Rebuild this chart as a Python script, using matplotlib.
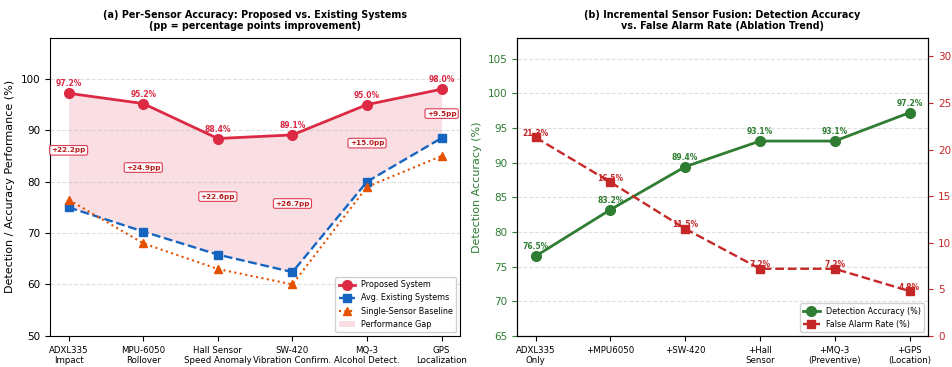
import matplotlib
matplotlib.use("Agg")
import matplotlib.pyplot as plt
import numpy as np

# panel (a) data
sensors = ["ADXL335\nImpact", "MPU-6050\nRollover", "Hall Sensor\nSpeed Anomaly",
           "SW-420\nVibration Confirm.", "MQ-3\nAlcohol Detect.", "GPS\nLocalization"]
proposed = [97.2, 95.2, 88.4, 89.1, 95.0, 98.0]
existing = [75.0, 70.3, 65.8, 62.4, 80.0, 88.5]
baseline = [76.5, 68.0, 63.0, 60.0, 79.0, 85.0]

# panel (b) data
stages = ["ADXL335\nOnly", "+MPU6050", "+SW-420", "+Hall\nSensor",
          "+MQ-3\n(Preventive)", "+GPS\n(Location)"]
accuracy = [76.5, 83.2, 89.4, 93.1, 93.1, 97.2]
false_alarm = [21.3, 16.5, 11.5, 7.2, 7.2, 4.8]

RED = "#DC2A45"
BLUE = "#1565C0"
ORANGE = "#E65100"
GREEN = "#2E7D32"
FRED = "#C62828"

fig = plt.figure(figsize=(9.52, 3.67), dpi=100)
ax1 = fig.add_axes([0.0525, 0.085, 0.431, 0.812])
ax2 = fig.add_axes([0.543, 0.085, 0.432, 0.812])

x = np.arange(len(sensors))
ax1.fill_between(x, existing, proposed, color=RED, alpha=0.15, lw=0, label="Performance Gap")
ax1.plot(x, proposed, "-o", color=RED, lw=2, ms=7, label="Proposed System", zorder=4)
ax1.plot(x, existing, "--s", color=BLUE, lw=1.7, ms=6, label="Avg. Existing Systems", zorder=3)
ax1.plot(x, baseline, ":^", color=ORANGE, lw=1.5, ms=5.5, label="Single-Sensor Baseline", zorder=3)

for i, v in enumerate(proposed):
    ax1.annotate(f"{v:.1f}%", (i, v), textcoords="offset points", xytext=(0, 5),
                 ha="center", fontsize=5.5, fontweight="bold", color=RED)
for i, (p, e) in enumerate(zip(proposed, existing)):
    ax1.text(i, (p + e) / 2, f"+{p - e:.1f}pp", ha="center", va="center",
             fontsize=5.2, fontweight="bold", color="#B71C1C",
             bbox=dict(boxstyle="round,pad=0.25", fc="white", ec=RED, lw=0.8, alpha=0.9))

ax1.set_ylim(50, 108)
ax1.set_xticks(x)
ax1.set_xticklabels(sensors, fontsize=6.2)
ax1.set_yticks([50, 60, 70, 80, 90, 100])
ax1.tick_params(axis="y", labelsize=7.5)
ax1.set_ylabel("Detection / Accuracy Performance (%)", fontsize=8)
ax1.set_title("(a) Per-Sensor Accuracy: Proposed vs. Existing Systems\n(pp = percentage points improvement)",
              fontsize=6.9, fontweight="bold")
ax1.grid(axis="y", ls="--", alpha=0.4)
handles, labels = ax1.get_legend_handles_labels()
order = [1, 2, 3, 0]
ax1.legend([handles[k] for k in order], [labels[k] for k in order],
           loc="lower right", fontsize=5.8, framealpha=0.9)

# panel (b)
x2 = np.arange(len(stages))
ax2.plot(x2, accuracy, "-o", color=GREEN, lw=2, ms=7, label="Detection Accuracy (%)", zorder=4)
for i, v in enumerate(accuracy):
    ax2.annotate(f"{v:.1f}%", (i, v), textcoords="offset points", xytext=(0, 5),
                 ha="center", fontsize=5.5, fontweight="bold", color=GREEN)
ax2.set_ylim(65, 108)
ax2.set_yticks([65, 70, 75, 80, 85, 90, 95, 100, 105])
ax2.set_ylabel("Detection Accuracy (%)", fontsize=8, color=GREEN)
ax2.tick_params(axis="y", colors=GREEN, labelsize=7.5)
ax2.set_xticks(x2)
ax2.set_xticklabels(stages, fontsize=6.2)
ax2.grid(axis="y", ls="--", alpha=0.4)
ax2.set_title("(b) Incremental Sensor Fusion: Detection Accuracy\nvs. False Alarm Rate (Ablation Trend)",
              fontsize=6.9, fontweight="bold")

ax3 = ax2.twinx()
ax3.plot(x2, false_alarm, "--s", color=FRED, lw=1.7, ms=6, label="False Alarm Rate (%)", zorder=4)
for i, v in enumerate(false_alarm):
    ax3.annotate(f"{v:.1f}%", (i, v), textcoords="offset points", xytext=(0, 1),
                 ha="center", fontsize=5.5, fontweight="bold", color=FRED)
ax3.set_ylim(0, 32)
ax3.set_yticks([0, 5, 10, 15, 20, 25, 30])
ax3.set_ylabel("False Alarm Rate (%)", fontsize=8, color=FRED)
ax3.tick_params(axis="y", colors=FRED, labelsize=7.5)

h1, l1 = ax2.get_legend_handles_labels()
h2, l2 = ax3.get_legend_handles_labels()
ax3.legend(h1 + h2, l1 + l2, loc="lower right", fontsize=5.8, framealpha=0.9)

fig.savefig("out.png", dpi=100)
